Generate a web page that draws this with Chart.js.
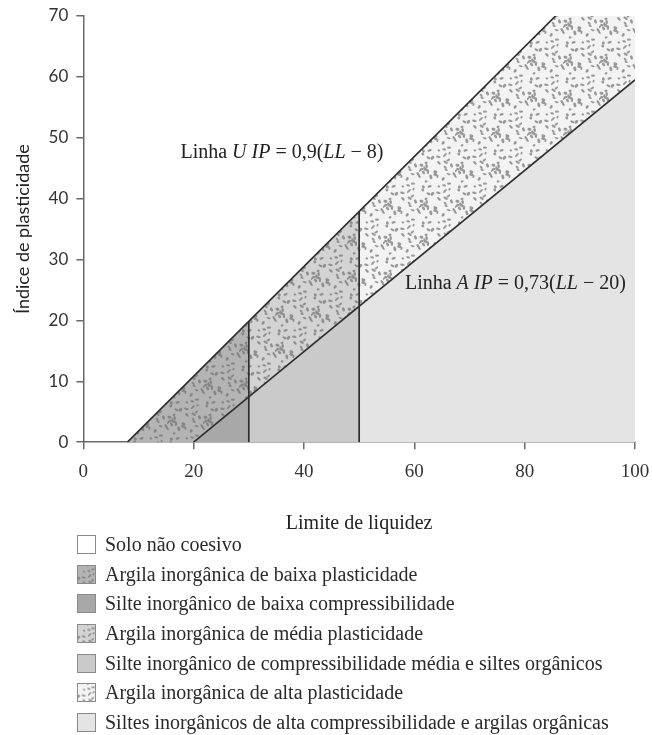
<html>
<head>
<title>Carta de plasticidade</title>
<meta charset="UTF-8">
<script src="https://cdn.jsdelivr.net/npm/chart.js@4.4.0/dist/chart.umd.min.js"></script>
<style>
  body { margin: 0; background: #fff; font-family: "Liberation Serif", "DejaVu Serif", serif; }
  #wrap { position: relative; width: 652px; height: 536px; }
  #legend { margin: -6px 0 0 0; padding: 0 0 0 77px; list-style: none; color: #2a2a2a; font-size: 20px; }
  #legend li { height: 29.6px; display: flex; align-items: center; white-space: nowrap; }
  #legend canvas { width: 19px; height: 19px; margin-right: 9px; box-sizing: border-box; border: 1px solid #8a8a8a; }
</style>
</head>
<body>
<div id="wrap"><canvas id="canvas"></canvas></div>
<ul id="legend"></ul>
<script>
// limites das linhas (LL, IP)
const linhaU = [[8, 0], [85.6, 70]];
const linhaA = [[20, 0], [100, 59.5]];
const divisa30 = [[30, 0], [30, 19.8]];
const divisa50 = [[50, 0], [50, 37.8]];

// zonas
const argilaBaixa = [[8, 0], [30, 19.8], [30, 7.3], [20, 0]];
const silteBaixa = [[20, 0], [30, 7.3], [30, 0]];
const argilaMedia = [[30, 19.8], [50, 37.8], [50, 22.2], [30, 7.3]];
const silteMedia = [[30, 0], [30, 7.3], [50, 22.2], [50, 0]];
const argilaAlta = [[50, 37.8], [85.6, 70], [100, 70], [100, 59.5], [50, 22.2]];
const silteAlta = [[50, 0], [50, 22.2], [100, 59.5], [100, 0]];

const legendLabels = [
  'Solo não coesivo',
  'Argila inorgânica de baixa plasticidade',
  'Silte inorgânico de baixa compressibilidade',
  'Argila inorgânica de média plasticidade',
  'Silte inorgânico de compressibilidade média e siltes orgânicos',
  'Argila inorgânica de alta plasticidade',
  'Siltes inorgânicos de alta compressibilidade e argilas orgânicas'
];

const xTicks = [0, 20, 40, 60, 80, 100];
const yTicks = [0, 10, 20, 30, 40, 50, 60, 70];

// textura pontilhada (padrao fixo)
function stipple(bg, dot) {
  const c = document.createElement('canvas');
  c.width = 36; c.height = 36;
  const g = c.getContext('2d');
  g.fillStyle = bg;
  g.fillRect(0, 0, 36, 36);
  g.fillStyle = dot;
  let s = 11;
  const rnd = () => { s = (s * 9301 + 49297) % 233280; return s / 233280; };
  for (let i = 0; i < 36; i++) {
    const x = rnd() * 36, y = rnd() * 36;
    const rx = 1.3 + rnd() * 1.3, ry = 0.9 + rnd() * 0.6, a = rnd() * Math.PI;
    for (const dx of [-36, 0, 36]) for (const dy of [-36, 0, 36]) {
      g.beginPath();
      g.ellipse(x + dx, y + dy, rx, ry, a, 0, Math.PI * 2);
      g.fill();
    }
  }
  return c;
}

const tiles = {
  baixa: stipple('#b4b4b4', '#868686'),
  media: stipple('#d3d3d3', '#8f8f8f'),
  alta: stipple('#f3f3f3', '#989898')
};
const tileKeys = ['', 'baixa', '', 'media', '', 'alta', ''];
const ctx = document.getElementById('canvas').getContext('2d');
const pat = k => ctx.createPattern(tiles[k], 'repeat');

const fills = ['#ffffff', pat('baixa'), '#a8a8a8', pat('media'), '#cacaca', pat('alta'), '#e4e4e4'];

const toXY = arr => arr.map(p => ({x: p[0], y: p[1]}));

function zona(pts, fill) {
  return { data: toXY(pts), showLine: true, fill: 'shape', backgroundColor: fill,
           borderWidth: 0, pointRadius: 0 };
}
function linha(pts) {
  return { data: toXY(pts), showLine: true, fill: false, borderColor: '#2e2e2e',
           borderWidth: 1.7, pointRadius: 0 };
}

const notas = [
  { at: [17.6, 47.6], parts: [['Linha ', 0], ['U IP', 1], [' = 0,9(', 0], ['LL', 1], [' − 8)', 0]] },
  { at: [58.3, 26], parts: [['Linha ', 0], ['A IP', 1], [' = 0,73(', 0], ['LL', 1], [' − 20)', 0]] }
];

const notasPlugin = {
  id: 'notas',
  afterDatasetsDraw(chart) {
    const c = chart.ctx, xs = chart.scales.x, ys = chart.scales.y;
    c.save();
    c.fillStyle = '#222';
    c.textBaseline = 'middle';
    notas.forEach(n => {
      let x = xs.getPixelForValue(n.at[0]);
      const y = ys.getPixelForValue(n.at[1]);
      n.parts.forEach(p => {
        c.font = (p[1] ? 'italic ' : '') + '20px "Liberation Serif"';
        c.fillText(p[0], x, y);
        x += c.measureText(p[0]).width;
      });
    });
    c.restore();
  }
};

const eixo = {
  display: true, drawOnChartArea: false, drawTicks: true, tickLength: 7, color: '#6a6a6a', lineWidth: 1.5
};

new Chart(ctx, {
  type: 'scatter',
  data: {
    datasets: [
      linha(linhaU), linha(linhaA), linha(divisa30), linha(divisa50),
      zona(argilaBaixa, fills[1]),
      zona(silteBaixa, fills[2]),
      zona(argilaMedia, fills[3]),
      zona(silteMedia, fills[4]),
      zona(argilaAlta, fills[5]),
      zona(silteAlta, fills[6])
    ]
  },
  options: {
    responsive: true,
    maintainAspectRatio: false,
    animation: false,
    layout: { padding: { top: 0, right: 1, left: 12, bottom: 0 } },
    plugins: { legend: { display: false }, tooltip: { enabled: false } },
    scales: {
      x: {
        type: 'linear', min: 0, max: 100,
        afterBuildTicks: a => { a.ticks = xTicks.map(v => ({value: v})); },
        afterFit: s => { s.paddingRight = 17; },
        grid: eixo,
        border: { display: true, color: '#6a6a6a', width: 1.5 },
        ticks: { color: '#333', font: { family: 'Liberation Serif', size: 19 }, padding: 11, maxRotation: 0 },
        title: { display: true, text: 'Limite de liquidez', color: '#222',
                 font: { family: 'Liberation Serif', size: 20 }, padding: { top: 18, bottom: 0 } }
      },
      y: {
        type: 'linear', min: 0, max: 70,
        afterBuildTicks: a => { a.ticks = yTicks.map(v => ({value: v})); },
        afterFit: s => { s.paddingTop = 16; },
        grid: eixo,
        border: { display: true, color: '#6a6a6a', width: 1.5 },
        ticks: { color: '#333', font: { family: 'Lato', size: 17 }, padding: 8 },
        title: { display: true, text: 'Índice de plasticidade', color: '#222',
                 font: { family: 'Lato', size: 18 }, padding: { top: 0, bottom: 7 } }
      }
    }
  },
  plugins: [notasPlugin]
});

// legenda
const ul = document.getElementById('legend');
legendLabels.forEach((txt, i) => {
  const li = document.createElement('li');
  const sw = document.createElement('canvas');
  sw.width = 19; sw.height = 19;
  const g = sw.getContext('2d');
  g.fillStyle = tileKeys[i] ? g.createPattern(tiles[tileKeys[i]], 'repeat') : fills[i];
  g.fillRect(0, 0, 19, 19);
  li.appendChild(sw);
  li.appendChild(document.createTextNode(txt));
  ul.appendChild(li);
});
</script>
</body>
</html>
